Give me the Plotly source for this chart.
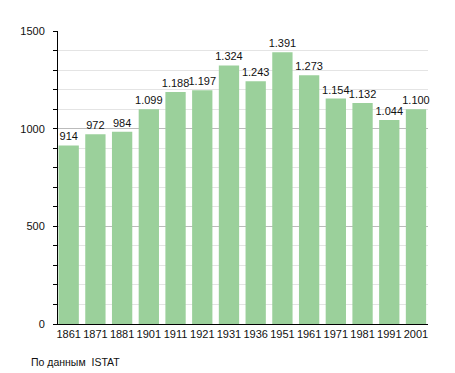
import plotly.graph_objects as go

years = ["1861", "1871", "1881", "1901", "1911", "1921", "1931", "1936",
         "1951", "1961", "1971", "1981", "1991", "2001"]
population = [914, 972, 984, 1099, 1188, 1197, 1324, 1243, 1391, 1273,
              1154, 1132, 1044, 1100]
labels = [f"{v:,}".replace(",", ".") for v in population]

# page has an 8px body margin; offsets compensate for it
W, H = 447, 365
L, R, T, B = 42, 27, 23, 49
PW, PH = W - L - R, H - T - B

fig = go.Figure(go.Bar(
    x=years, y=population, text=labels, textposition="outside",
    constraintext="none",
    textfont=dict(size=11, color="#111"),
    marker=dict(color="#9bd09b", line=dict(width=0)),
    cliponaxis=False,
))

fig.update_layout(
    width=W, height=H,
    margin=dict(l=L, r=R, t=T, b=B),
    paper_bgcolor="white", plot_bgcolor="white",
    font=dict(family="Liberation Sans, Arial, sans-serif", size=11, color="#111"),
    bargap=0.24,
    showlegend=False,
    xaxis=dict(showline=True, linecolor="black", linewidth=1, ticks="",
               range=[-0.4, 13.45],
               tickangle=0, tickfont=dict(size=11), ticklabelstandoff=0,
               fixedrange=True),
    yaxis=dict(range=[0, 1500], dtick=500, showline=True, linecolor="black",
               linewidth=1, ticks="outside", ticklen=4, tickcolor="black",
               showgrid=True, gridcolor="#bbbbbb", gridwidth=1,
               zeroline=False, ticklabelstandoff=6,
               minor=dict(dtick=100, ticks="outside", ticklen=4,
                          tickcolor="black", showgrid=True,
                          gridcolor="#e4e4e4", gridwidth=1)),
    annotations=[dict(text="По данным  ISTAT",
                      x=(12 - L) / PW, y=(H - B - 354) / PH,
                      xref="paper", yref="paper", showarrow=False,
                      xanchor="left", yanchor="middle",
                      font=dict(size=10.5, color="#111"))],
)

fig.write_html("out.html")
